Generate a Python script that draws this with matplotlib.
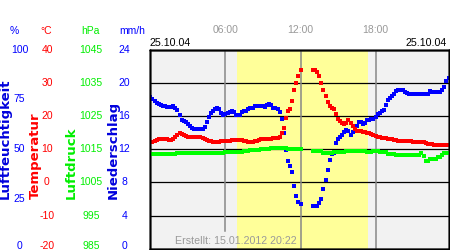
import numpy as np
import matplotlib
matplotlib.use("Agg")
import matplotlib.pyplot as plt
from matplotlib import transforms

plt.rcParams["font.family"] = ["Liberation Sans", "DejaVu Sans"]

nan = np.nan

# 10 minute readings for 25.10.04, 00:00 .. 23:50 (gap around noon)
humidity = [
    76.0, 75.2, 74.2, 73.2, 72.5, 72.2, 71.7, 71.7, 71.2, 71.2, 71.2, 71.5,
    70.7, 69.7, 67.2, 64.9, 64.2, 63.9, 62.7, 61.7, 60.7, 59.9, 59.9, 59.9,
    59.9, 60.4, 61.4, 63.7, 66.2, 68.2, 69.2, 70.0, 70.7, 70.2, 68.2, 67.4,
    67.7, 68.2, 68.9, 69.2, 68.7, 67.4, 67.4, 67.4, 68.7, 69.4, 69.4, 70.2,
    70.7, 70.7, 71.5, 71.5, 71.5, 71.5, 71.5, 71.0, 72.2, 72.7, 72.2, 70.5,
    70.5, 70.2, 68.7, 65.2, 58.1, 49.6, 44.1, 41.8, 38.5, 31.5, 26.5, 23.5,
    22.5, nan, nan, nan, nan, nan, 21.6, 21.6, 21.6, 23.2, 25.0, 30.0,
    34.5, 39.5, 44.6, 47.6, 48.1, 53.1, 55.1, 55.9, 57.1, 58.6, 59.4, 59.1,
    57.1, 58.6, 60.4, 61.7, 63.7, 63.7, 62.9, 63.2, 64.7, 64.9, 65.0, 65.4,
    66.2, 67.7, 68.2, 69.4, 69.9, 72.2, 74.7, 75.7, 76.7, 77.7, 79.0, 79.5,
    79.5, 79.5, 78.7, 78.2, 77.7, 77.7, 77.7, 77.7, 77.7, 77.7, 77.7, 77.7,
    77.7, 77.7, 79.1, 78.7, 78.7, 78.7, 78.7, 78.7, 79.7, 81.5, 84.3, 86.0,
]

temperature = [
    12.3, 12.3, 12.6, 12.9, 13.1, 13.2, 13.2, 13.2, 13.2, 12.9, 12.9, 13.2,
    13.8, 14.4, 14.9, 14.7, 14.4, 14.1, 13.8, 13.8, 13.7, 13.7, 13.7, 13.7,
    13.7, 13.5, 13.2, 12.9, 12.6, 12.5, 12.3, 12.2, 12.2, 12.3, 12.5, 12.5,
    12.5, 12.5, 12.5, 12.8, 12.9, 12.9, 12.9, 12.9, 12.8, 12.6, 12.5, 12.3,
    12.3, 12.3, 12.5, 12.6, 12.9, 13.1, 13.1, 13.1, 13.1, 13.2, 13.2, 13.4,
    13.4, 13.5, 13.8, 14.9, 16.4, 19.4, 21.5, 22.1, 24.5, 27.8, 30.0, 32.1,
    33.9, nan, nan, nan, nan, nan, 33.9, 33.9, 33.4, 32.1, 30.0, 27.8,
    25.9, 24.1, 23.0, 22.3, 22.0, 20.6, 19.1, 18.5, 17.9, 17.6, 18.0, 18.7,
    18.0, 17.0, 16.2, 15.6, 15.6, 15.5, 15.3, 15.2, 14.9, 14.9, 14.6, 14.3,
    14.1, 13.8, 13.6, 13.5, 13.4, 13.4, 13.2, 13.1, 13.1, 12.9, 12.8, 12.6,
    12.5, 12.5, 12.4, 12.4, 12.4, 12.4, 12.2, 12.1, 12.1, 12.1, 12.1, 12.1,
    12.0, 11.7, 11.7, 11.6, 11.4, 11.4, 11.4, 11.4, 11.4, 11.4, 11.4, 11.4,
]

pressure = [
    1013.5, 1013.5, 1013.5, 1013.5, 1013.5, 1013.5, 1013.5, 1013.5, 1013.5, 1013.5, 1013.5, 1013.5,
    1013.5, 1013.8, 1013.8, 1013.8, 1013.8, 1013.8, 1013.8, 1014.0, 1014.0, 1014.0, 1014.0, 1014.0,
    1014.0, 1014.0, 1014.0, 1014.0, 1014.0, 1014.0, 1014.0, 1014.0, 1014.0, 1014.0, 1014.0, 1014.0,
    1014.1, 1014.1, 1014.1, 1014.1, 1014.1, 1014.1, 1014.1, 1014.1, 1014.1, 1014.4, 1014.4, 1014.4,
    1014.9, 1014.9, 1014.9, 1014.9, 1014.9, 1015.2, 1015.2, 1015.2, 1015.2, 1015.2, 1015.5, 1015.5,
    1015.5, 1015.5, 1015.5, 1015.5, 1015.5, 1015.5, 1015.1, 1015.1, 1015.1, 1015.1, 1015.1, 1015.1,
    1015.1, nan, nan, nan, nan, nan, 1014.4, 1014.4, 1014.4, 1014.4, 1014.4, 1013.9,
    1013.9, 1013.9, 1013.9, 1013.9, 1014.2, 1014.2, 1014.2, 1014.2, 1014.2, 1014.2, 1014.4, 1014.4,
    1014.4, 1014.4, 1014.4, 1014.4, 1014.4, 1014.4, 1014.4, 1014.4, 1014.1, 1014.1, 1014.1, 1014.5,
    1014.5, 1014.5, 1014.2, 1014.2, 1014.2, 1014.2, 1013.6, 1013.6, 1013.6, 1013.6, 1013.3, 1013.3,
    1013.3, 1013.2, 1013.2, 1013.2, 1013.2, 1013.2, 1013.2, 1013.3, 1013.3, 1013.3, 1013.9, 1012.9,
    1011.5, 1011.5, 1012.0, 1012.0, 1012.0, 1012.0, 1012.6, 1012.6, 1013.3, 1013.9, 1013.9, 1013.9,
]

hours = np.arange(len(humidity)) / 6.0
sunrise, sunset = 6.93, 17.37

hum_ticks = [0, 25, 50, 75, 100]
temp_ticks = [-20, -10, 0, 10, 20, 30, 40]
pres_ticks = [985, 995, 1005, 1015, 1025, 1035, 1045]
rain_ticks = [0, 4, 8, 12, 16, 20, 24]
hour_ticks = [6, 12, 18]
hour_labels = ["06:00", "12:00", "18:00"]

BLUE = "#0000ff"
RED = "#ff0000"
GREEN = "#00ff00"
GREY = "#999999"

W, H = 450, 250
fig = plt.figure(figsize=(W / 100, H / 100), dpi=100)
ax = fig.add_axes([150 / W, 1.3 / H, 299 / W, 199 / H])
ax.set_xlim(-0.03, 23.87)
ax.set_ylim(0, 100)
ax.set_facecolor("#f2f2f2")
ax.axvspan(sunrise, sunset, color="#ffff99", zorder=0.1, lw=0)

# black horizontal lines on the 6 divisions of the temperature scale
ax.set_yticks(np.linspace(0, 100, len(temp_ticks)))
ax.set_axisbelow(True)
ax.grid(axis="y", color="black", lw=0.9)
ax.axvline(6, ymin=0.089, color="#888888", lw=1.1, zorder=0.6)
ax.axvline(12, color="#888888", lw=1.1, zorder=0.6)
ax.axvline(18, color="#888888", lw=1.1, zorder=0.6)

ax.plot(hours, humidity, "s", color=BLUE, ms=2.6, mew=0, zorder=3)

ax_t = ax.twinx()
ax_t.set_ylim(-20, 40)
ax_t.plot(hours, temperature, "s", color=RED, ms=2.6, mew=0)

ax_p = ax.twinx()
ax_p.set_ylim(985, 1045)
ax_p.plot(hours, pressure, "s", color=GREEN, ms=2.6, mew=0)

ax_r = ax.twinx()
ax_r.set_ylim(0, 24)

for a in (ax, ax_t, ax_p, ax_r):
    a.tick_params(left=False, right=False, bottom=False,
                  labelleft=False, labelright=False, labelbottom=False)
    for s in a.spines.values():
        s.set_linewidth(1.0)
        s.set_color("black")


def tick_column(axis, values, xpx, color):
    tr = transforms.blended_transform_factory(fig.transFigure, axis.transData)
    lo = axis.get_ylim()[0]
    for v in values:
        axis.text(xpx / W, v, str(v), transform=tr, ha="center",
                  va="baseline" if v == lo else "center",
                  color=color, fontsize=7.5, clip_on=False)


tick_column(ax, hum_ticks, 19.5, BLUE)
tick_column(ax_t, temp_ticks, 47, RED)
tick_column(ax_p, pres_ticks, 91, "#00ee00")
tick_column(ax_r, rain_ticks, 124.5, BLUE)

for txt, xpx, c in [("%", 14, BLUE), ("°C", 46, RED), ("hPa", 90, "#00ee00"), ("mm/h", 132.5, BLUE)]:
    fig.text(xpx / W, 1 - 30.5 / H, txt, ha="center", va="center", color=c, fontsize=7.5)

for txt, xpx, c in [("Luftfeuchtigkeit", 5, "#0000dd"), ("Temperatur", 35, RED),
                    ("Luftdruck", 71.7, "#00ee00"), ("Niederschlag", 113, "#0000dd")]:
    fig.text(xpx / W, 1 - 199 / H, txt, rotation=90, ha="center", va="bottom",
             color=c, fontsize=9.5, fontweight="bold", family="DejaVu Sans")

tr_top = transforms.blended_transform_factory(ax.transData, fig.transFigure)
for h, lab in zip(hour_ticks, hour_labels):
    ax.text(h, 1 - 30.3 / H, lab, transform=tr_top, ha="center", va="center",
            color=GREY, fontsize=7.5, clip_on=False)

fig.text(150 / W, 1 - 43 / H, "25.10.04", ha="left", va="center", fontsize=7.7, color="black")
fig.text(447 / W, 1 - 43 / H, "25.10.04", ha="right", va="center", fontsize=7.7, color="black")
fig.text(236 / W, 1 - 241 / H, "Erstellt: 15.01.2012 20:22", ha="center", va="center",
         fontsize=7.7, color=GREY)

fig.savefig("out.png", dpi=100)
